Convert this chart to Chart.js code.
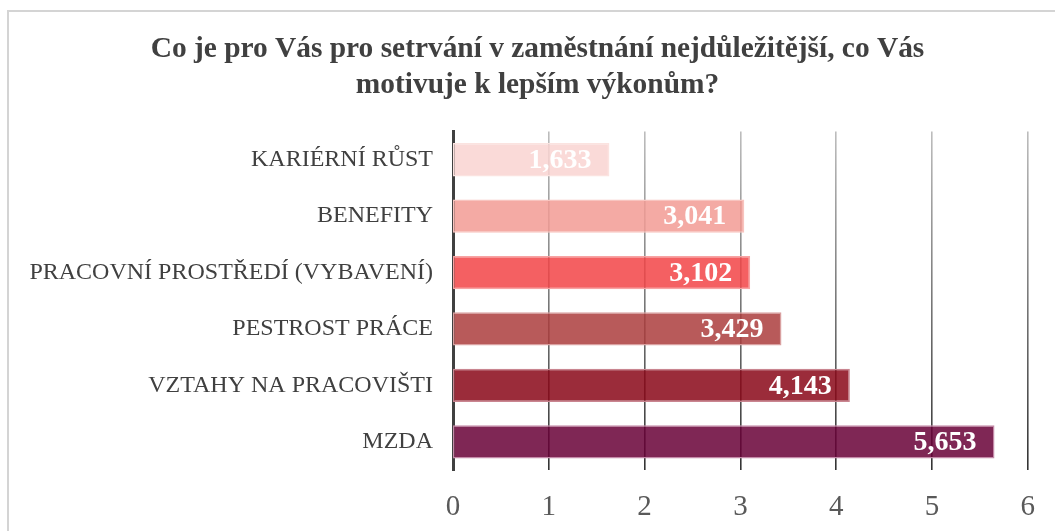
<!DOCTYPE html>
<html>
<head>
<meta charset="utf-8">
<script src="https://cdn.jsdelivr.net/npm/chart.js@4/dist/chart.umd.min.js"></script>
<style>
  html, body { margin: 0; padding: 0; width: 1055px; height: 531px; overflow: hidden; background: #fff; }
  #frame { position: absolute; left: 7px; top: 10px; width: 1200px; height: 700px;
           border-left: 2px solid #d4d4d4; border-top: 2px solid #d4d4d4; }
  #wrap { position: absolute; left: 0; top: 0; width: 1055px; height: 531px; }
</style>
</head>
<body>
<div id="frame"></div>
<div id="wrap"><canvas id="c" width="1055" height="531"></canvas></div>
<script>
const categories = ["KARIÉRNÍ RŮST", "BENEFITY", "PRACOVNÍ PROSTŘEDÍ (VYBAVENÍ)", "PESTROST PRÁCE", "VZTAHY NA PRACOVIŠTI", "MZDA"];
const values = [1.633, 3.041, 3.102, 3.429, 4.143, 5.653];
const xTicks = [0, 1, 2, 3, 4, 5, 6];
const titleLines = ["Co je pro Vás pro setrvání v zaměstnání nejdůležitější, co Vás", "motivuje k lepším výkonům?"];

const fillColors = [
  "rgba(249,212,209,0.85)",
  "rgba(242,155,148,0.85)",
  "rgba(242,68,70,0.85)",
  "rgba(171,61,61,0.85)",
  "rgba(138,7,24,0.85)",
  "rgba(104,1,55,0.85)"
];
const borderColors = ["#fbe3e0", "#f8c4bf", "#f7a3a3", "#d9a0a0", "#c98590", "#c48aa8"];

const SERIF = "'Liberation Serif', 'Times New Roman', serif";

const labelPlugin = {
  id: "barLabels",
  afterLayout(chart) {
    if (chart.titleBlock) { chart.titleBlock.left = 47; }
  },
  afterDatasetsDraw(chart) {
    const ctx = chart.ctx;
    const meta = chart.getDatasetMeta(0);
    ctx.save();
    ctx.font = "bold 28px " + SERIF;
    ctx.fillStyle = "#ffffff";
    ctx.textAlign = "right";
    ctx.textBaseline = "middle";
    meta.data.forEach((bar, i) => {
      const txt = values[i].toFixed(3).replace(".", ",");
      ctx.fillText(txt, bar.x - 18, bar.y + 1);
    });
    ctx.restore();
  }
};

new Chart(document.getElementById("c"), {
  type: "bar",
  data: {
    labels: categories,
    datasets: [{
      data: values,
      backgroundColor: fillColors,
      borderColor: borderColors,
      borderWidth: 1.5,
      borderSkipped: false,
      barPercentage: 0.59,
      categoryPercentage: 1.0
    }]
  },
  options: {
    indexAxis: "y",
    responsive: false,
    animation: false,
    layout: { padding: { left: 0, right: 27, top: 0, bottom: 0 } },
    plugins: {
      legend: { display: false },
      tooltip: { enabled: false },
      title: {
        display: true,
        text: titleLines,
        color: "#404040",
        font: { family: SERIF, size: 29.4, weight: "bold", lineHeight: 1.2 },
        padding: { top: 32, bottom: 29 }
      }
    },
    scales: {
      x: {
        min: 0, max: 6,
        afterBuildTicks(s) { s.ticks = xTicks.map(v => ({ value: v })); },
        afterFit(s) { s.height = 61; },
        border: { display: false },
        grid: {
          drawTicks: false,
          lineWidth: (c) => c.index === 0 ? 0 : 1.6,
          color: (c) => {
            const ch = c.chart, a = ch.chartArea;
            if (!a) return "#888";
            const g = ch.ctx.createLinearGradient(0, a.top, 0, a.bottom);
            g.addColorStop(0, "#bdbdbd");
            g.addColorStop(1, "#333333");
            return g;
          }
        },
        ticks: {
          color: "#595959",
          padding: 20,
          font: { family: SERIF, size: 29 }
        }
      },
      y: {
        afterFit(s) { s.width = 453; },
        grid: { display: false, drawTicks: false },
        border: { display: true, color: "#404040", width: 3 },
        ticks: {
          color: "#404040",
          padding: 20,
          font: { family: SERIF, size: 24 }
        }
      }
    }
  },
  plugins: [labelPlugin]
});
</script>
</body>
</html>
